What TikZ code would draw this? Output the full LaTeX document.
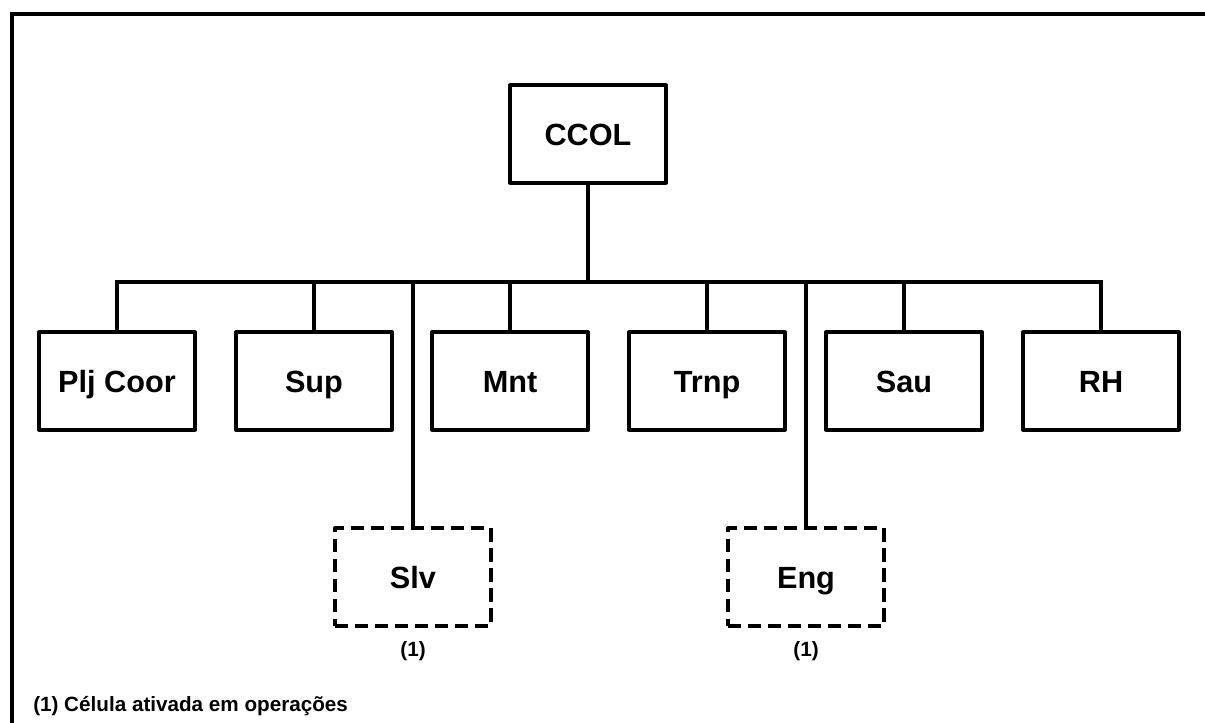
\documentclass[tikz,border=0pt]{standalone}
\usepackage{fontspec}
\setmainfont{Liberation Sans}
\begin{document}
\begin{tikzpicture}[x=0.75pt,y=-0.75pt,
  unit/.style={draw=black,line width=3pt,line join=round,fill=white,
    minimum width=117pt,minimum height=73pt,inner sep=0pt,
    text height=16.5pt,text depth=0pt,
    font=\fontsize{23}{27}\selectfont\bfseries},
  cell/.style={unit,line width=3.2pt,dash pattern=on 10pt off 5pt},
  link/.style={line width=2.3pt},
  note/.style={font=\fontsize{15.5}{18}\selectfont\bfseries,inner sep=0pt}]
\useasboundingbox (0,0) rectangle (1205,722);
% open frame: only its top and left sides lie on the page
\draw[line width=3pt] (11.5,730) -- (11.5,13.5) -- (1210,13.5);

% head of the organisation
\node[unit] (ccol) at (588,134) {CCOL};

% first level
\node[unit] (plj) at (117,381) {Plj Coor};
\node[unit] (sup) at (314,381) {Sup};
\node[unit] (mnt) at (510,381) {Mnt};
\node[unit] (trnp) at (707,381) {Trnp};
\node[unit] (sau) at (904,381) {Sau};
\node[unit] (rh) at (1101,381) {RH};

% cells activated in operations
\node[cell] (slv) at (413,577) {Slv};
\node[cell] (eng) at (806,577) {Eng};
\node[note] (n1) at (413,651) {(1)};
\node[note] (n2) at (806,651) {(1)};

% connectors
\coordinate (bus) at (588,282);
\draw[link] (ccol.south) -- (bus);
\draw[link] (plj.north) |- (bus) -| (rh.north);
\foreach \n in {sup,mnt,trnp,sau,slv,eng}
  \draw[link] (\n.north) -- (\n.north |- bus);

\node[note,anchor=base west] (foot) at (33,711) {(1) Célula ativada em operações};
\end{tikzpicture}
\end{document}
